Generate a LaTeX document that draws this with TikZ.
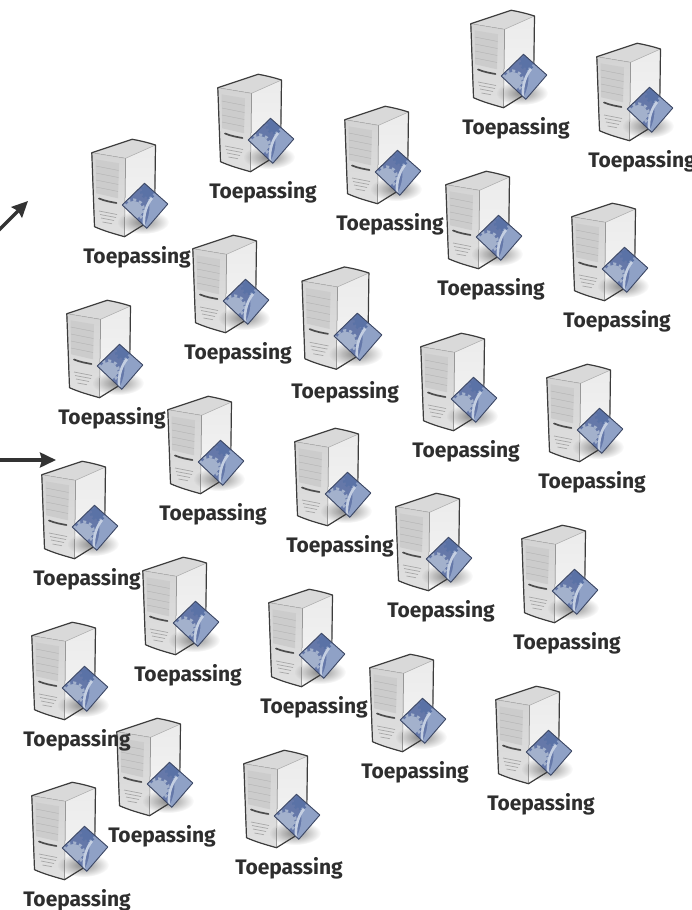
\documentclass[tikz,border=0pt]{standalone}
\usepackage{fontspec}
\setmainfont{Fira Sans}
\usetikzlibrary{arrows.meta,positioning,calc,fadings}
\definecolor{arrowgray}{HTML}{333333}
\definecolor{caseline}{HTML}{3C3C3C}
\definecolor{badgedark}{HTML}{6578A9}
\definecolor{badgemid}{HTML}{8FA1C6}
\definecolor{badgeband}{HTML}{C4CFE2}
\definecolor{gearlight}{HTML}{A3B1CC}
\definecolor{geardark}{HTML}{5A72A6}
\tikzfading[name=softshadow, inner color=transparent!0, outer color=transparent!100]
\pgfdeclarelayer{captions}
\pgfsetlayers{main,captions}
\tikzset{
  appserver/.pic={
    % case
    \fill[top color=black!8, bottom color=black!4] (-45.2,-103.3) -- (-4.8,-116.7) .. controls (5,-115) and (12,-113) .. (18.5,-111) -- (17.5,-38) -- (-12.5,-19.3) .. controls (-22,-22) and (-33,-25) .. (-42.5,-29.3) -- cycle;
    \fill[black!15] (-45.2,-103.3) -- (-4.8,-116.7) .. controls (5,-115) and (12,-113) .. (18.5,-111) -- (-11.5,-97.7) -- cycle;
    \fill[top color=black!17, bottom color=black!12] (-45.2,-103.3) -- (-11.5,-97.7) -- (-12.5,-19.3) .. controls (-22,-22) and (-33,-25) .. (-42.5,-29.3) -- cycle;
    % shadow of the badge
    \fill[black, opacity=.45, path fading=softshadow] (6,-34) ellipse (26 and 12);
    \draw[white!70!black, line width=.6pt] (-45.2,-103.3) -- (-11.5,-97.7) -- (18.5,-111);
    \draw[white!55!black, line width=.5pt] (-11.5,-97.7) -- (-12.5,-19.3);
    \draw[caseline, line width=1.2pt, line join=round] (-45.2,-103.3) -- (-4.8,-116.7) .. controls (5,-115) and (12,-113) .. (18.5,-111) -- (17.5,-38) -- (-12.5,-19.3) .. controls (-22,-22) and (-33,-25) .. (-42.5,-29.3) -- cycle;
    % drive panel
    \fill[black!20] (-41.5,-96.7) -- (-18,-92.7) -- (-19,-57.7) -- (-40.8,-62.7) -- cycle;
    \draw[black!30, line width=.4pt] (-41.3,-90) -- (-18.3,-85.5) (-41.2,-83) -- (-18.5,-78.5) (-41,-76) -- (-18.7,-71.5) (-41,-69) -- (-18.8,-64.5);
    % slot and vents
    \draw[black!70, line width=1.7pt, line cap=round] (-38,-57.5) .. controls (-32,-55) and (-26,-54) .. (-20.5,-53);
    \draw[black!35, line width=.7pt] (-38,-45) -- (-20,-41.5) (-37,-41.5) -- (-21,-38.5) (-36,-38) -- (-23,-35.5) (-34.5,-34) -- (-25,-32.3);
    % badge
    \begin{scope}
      \clip (7.5,-72.7) -- (30.8,-52) -- (9.8,-27.7) -- (-14.8,-51) -- cycle;
      \fill[badgedark] (-16,-74) rectangle (32,-26);
      \fill[badgemid] (16,-74) -- (32,-74) -- (32,-26) -- (6,-26) .. controls (12,-38) and (15,-50) .. (10,-60) -- cycle;
      \fill[gearlight] (-3.5,-46) circle (9);
      \draw[gearlight, line width=2.6pt, dash pattern=on 3pt off 3pt] (-3.5,-46) circle (10.3);
      \fill[geardark] (11,-65) circle (6);
      \draw[geardark, line width=2.4pt, dash pattern=on 2.4pt off 2.4pt] (11,-65) circle (7);
      \draw[badgeband, line width=2.6pt] (15,-58) .. controls (10,-52) and (6,-42) .. (7,-30);
    \end{scope}
    \draw[black!40!badgedark, line width=.9pt, line join=round] (7.5,-72.7) -- (30.8,-52) -- (9.8,-27.7) -- (-14.8,-51) -- cycle;
    % caption
    \begin{pgfonlayer}{captions}
      \node[caption] (-label) at (0,1) {Toepassing};
    \end{pgfonlayer}
  },
  caption/.style={font=\fontsize{21}{25}\selectfont\bfseries, text=black!82, inner sep=0pt},
  feed/.style={-{Stealth[length=16pt,width=15pt,inset=2pt]}, arrowgray, line width=3.2pt}
}
\begin{document}
\begin{tikzpicture}[x=1pt, y=-1pt]
\useasboundingbox (0,0) rectangle (692,910);
\clip (0,0) rectangle (692,910);
% Servers, back to front
\pic (a1) at (516,127) {appserver};
\pic (a2) at (642,160) {appserver};
\pic (a3) at (263,191) {appserver};
\pic (a4) at (390,223) {appserver};
\pic (a5) at (491,288) {appserver};
\pic (a6) at (617,320) {appserver};
\pic (a7) at (137,256) {appserver};
\pic (a8) at (238,352) {appserver};
% this one stands a little larger
\pic[scale=1.05, caption/.append style={xshift=-4.3pt, yshift=-1.4pt}] (a9) at (349.5,389.5) {appserver};
\pic (a10) at (466,450) {appserver};
\pic (a11) at (592,481) {appserver};
\pic (a12) at (112,417) {appserver};
\pic (a13) at (213,513) {appserver};
\pic (a14) at (340,545) {appserver};
\pic (a15) at (441,610) {appserver};
\pic (a16) at (567,642) {appserver};
\pic (a17) at (87,578) {appserver};
\pic (a18) at (188,674) {appserver};
\pic (a19) at (314,706) {appserver};
\pic (a20) at (415,771) {appserver};
\pic (a21) at (541,803) {appserver};
\pic (a22) at (77,739) {appserver};
\pic (a23) at (162,835) {appserver};
\pic (a24) at (289,867) {appserver};
\pic (a25) at (77,899) {appserver};
% Incoming arrows
\coordinate (upperfrom) at (-4,233);
\coordinate (upperto) at (28,201);
\coordinate (lowerfrom) at (-4,460);
\coordinate (lowerto) at (56,460);
\draw[feed] (upperfrom) -- (upperto);
\draw[feed] (lowerfrom) -- (lowerto);
\end{tikzpicture}
\end{document}
